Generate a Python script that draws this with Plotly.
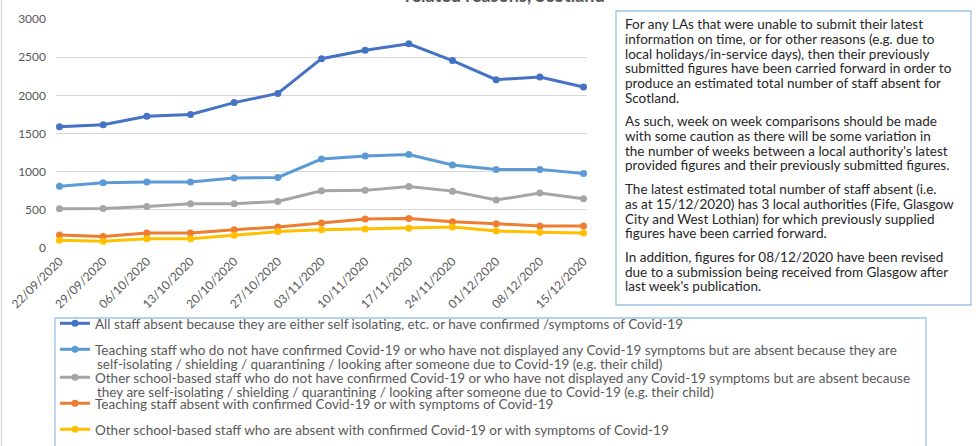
import plotly.graph_objects as go

W, H = 976, 446
# plot area, in pixels of the 976x446 page
PL, PR, PT, PB = 56, 587, 19, 248

weeks = [
    "22/09/2020", "29/09/2020", "06/10/2020", "13/10/2020", "20/10/2020",
    "27/10/2020", "03/11/2020", "10/11/2020", "17/11/2020", "24/11/2020",
    "01/12/2020", "08/12/2020", "15/12/2020",
]

all_staff = [1590, 1615, 1725, 1750, 1905, 2025, 2480, 2590, 2675, 2455, 2205, 2240, 2110]
teaching_isolating = [810, 855, 865, 865, 918, 925, 1165, 1205, 1225, 1088, 1030, 1030, 975]
other_isolating = [515, 518, 545, 580, 580, 610, 750, 755, 805, 745, 628, 720, 645]
teaching_covid = [170, 152, 197, 197, 240, 275, 328, 380, 385, 345, 318, 288, 288]
other_covid = [100, 88, 122, 122, 166, 215, 240, 250, 258, 275, 223, 205, 197]

# legend labels: first line goes in the legend, a wrapped second line (if any) is written under it
series_names = [
    "All staff absent because they are either self isolating, etc. or have confirmed /symptoms of Covid-19",
    "Teaching staff who do not have confirmed Covid-19 or who have not displayed any Covid-19 symptoms but are absent because they are",
    "Other school-based staff who do not have confirmed Covid-19 or who have not displayed any Covid-19 symptoms but are absent because",
    "Teaching staff absent with confirmed Covid-19 or with symptoms of Covid-19",
    "Other school-based staff who are absent with confirmed Covid-19 or with symptoms of Covid-19",
]
series_wrap = [
    "",
    "self-isolating / shielding / quarantining / looking after someone due to Covid-19 (e.g. their child)",
    "they are self-isolating / shielding / quarantining / looking after someone due to Covid-19 (e.g. their child)",
    "",
    "",
]
series_values = [all_staff, teaching_isolating, other_isolating, teaching_covid, other_covid]
series_colors = ["#4472C4", "#5B9BD5", "#A5A5A5", "#ED7D31", "#FFC000"]

y_ticks = [0, 500, 1000, 1500, 2000, 2500, 3000]

note_paragraphs = [
    ["For any LAs that were unable to submit their latest",
     "information on time, or for other reasons (e.g. due to",
     "local holidays/in-service days), then their previously",
     "submitted figures have been carried forward in order to",
     "produce an estimated total number of staff absent for",
     "Scotland."],
    ["As such, week on week comparisons should be made",
     "with some caution as there will be some variation in",
     "the number of weeks between a local authority's latest",
     "provided figures and their previously submitted figures."],
    ["The latest estimated total number of staff absent (i.e.",
     "as at 15/12/2020) has 3 local authorities (Fife, Glasgow",
     "City and West Lothian) for which previously supplied",
     "figures have been carried forward."],
    ["In addition, figures for 08/12/2020 have been revised",
     "due to a submission being received from Glasgow after",
     "last week's publication."],
]

FONT = "Lato"
GREY = "#595959"
BOX = "#9DC3E6"
TXT = 13.5


def fx(px):
    return (px - PL) / (PR - PL)


def fy(py):
    return (PB - py) / (PB - PT)


fig = go.Figure()
legend_keys = ["legend", "legend2", "legend3", "legend4", "legend5"]
for name, vals, col, lk in zip(series_names, series_values, series_colors, legend_keys):
    fig.add_trace(go.Scatter(
        x=weeks, y=vals, name=name, mode="lines+markers",
        line=dict(color=col, width=3), marker=dict(color=col, size=7),
        cliponaxis=False, legend=lk, showlegend=True,
    ))

# one legend per entry so the rows sit where the Excel legend put them
legend_rows = [324, 350, 378, 404, 430]
for lk, row, wrap in zip(legend_keys, legend_rows, series_wrap):
    fig.update_layout({lk: dict(
        x=fx(55), y=fy(row - 16), xanchor="left", yanchor="top",
        bgcolor="rgba(0,0,0,0)", borderwidth=0,
        font=dict(family=FONT, size=TXT, color=GREY),
    )})
    if wrap:
        fig.add_annotation(
            text=wrap, xref="paper", yref="paper", x=fx(95), y=fy(row + 14),
            xanchor="left", yanchor="middle", showarrow=False, align="left",
            font=dict(family=FONT, size=TXT, color=GREY),
        )

# note box text, one annotation per line
y = 24.3
for para in note_paragraphs:
    for line in para:
        fig.add_annotation(
            text=line, xref="paper", yref="paper", x=fx(623), y=fy(y),
            xanchor="left", yanchor="middle", showarrow=False, align="left",
            font=dict(family=FONT, size=TXT, color="#262626"),
        )
        y += 14.65
    y += 9.2

# title, mostly cut off at the top of the crop
fig.add_annotation(
    text="<b>related reasons, Scotland</b>", xref="paper", yref="paper",
    x=fx(403), y=fy(-4.5), xanchor="left", yanchor="middle", showarrow=False,
    font=dict(family=FONT, size=18, color=GREY),
)

shapes = [
    dict(type="rect", xref="paper", yref="paper", x0=fx(616), x1=fx(971), y0=fy(11), y1=fy(305),
         line=dict(color=BOX, width=1.3)),
    dict(type="rect", xref="paper", yref="paper", x0=fx(55), x1=fx(926), y0=fy(318), y1=fy(470),
         line=dict(color=BOX, width=1.3)),
    dict(type="line", xref="paper", yref="paper", x0=fx(1.5), x1=fx(1.5), y0=fy(0), y1=fy(446),
         line=dict(color="#D9D9D9", width=1.5)),
]

fig.update_layout(
    width=W, height=H,
    margin=dict(l=PL, r=W - PR, t=PT, b=H - PB, autoexpand=False),
    paper_bgcolor="white", plot_bgcolor="white",
    shapes=shapes, showlegend=True,
    hovermode=False,
)
fig.update_xaxes(
    type="category", range=[-0.08, len(weeks) - 1 + 0.08],
    showgrid=False, zeroline=False, showline=False, ticks="",
    tickangle=-45, tickfont=dict(family=FONT, size=12, color=GREY),
    ticklabelstandoff=3,
)
fig.update_yaxes(
    range=[0, 3000], tickvals=y_ticks, showgrid=True, gridcolor="#D9D9D9", gridwidth=1,
    zeroline=False, showline=False, ticks="",
    tickfont=dict(family=FONT, size=12, color=GREY), ticklabelstandoff=9,
)

fig.write_html(
    "out.html",
    config={"displayModeBar": False},
    post_script="document.body.style.margin='0';document.body.style.overflow='hidden';",
)
